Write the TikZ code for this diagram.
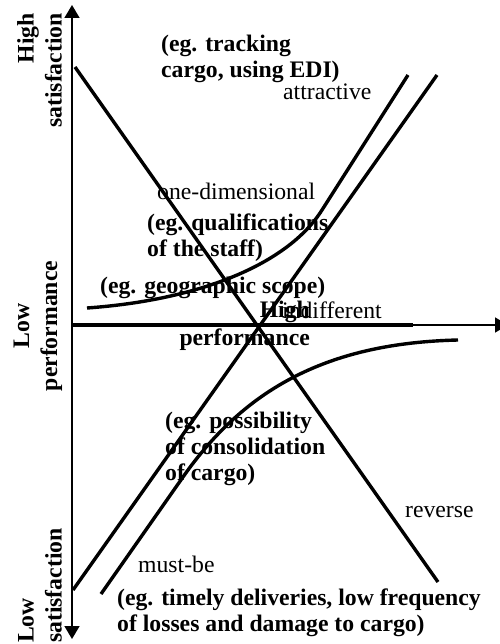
\documentclass[tikz,border=0pt]{standalone}
\usepackage{fontspec}
\setmainfont{Liberation Serif}
\usetikzlibrary{arrows.meta}
\tikzset{
  every picture/.style={x=1pt, y=-1pt},
  axis/.style={line width=1.6pt, -{Triangle[length=13pt, width=15pt]}},
  kano/.style={line width=3.4pt},
  eg/.style={font=\fontsize{23.7}{26}\selectfont\bfseries, align=left, inner sep=0pt, anchor=base west},
  kind/.style={font=\fontsize{23.7}{26}\selectfont, inner sep=0pt, anchor=base west},
  side/.style={font=\fontsize{23.7}{28}\selectfont\bfseries, rotate=90, inner sep=0pt},
}

\begin{document}
\begin{tikzpicture}
  \useasboundingbox (0,0) rectangle (499,644);
  % axes
  \coordinate (o) at (72,325);
  \coordinate (ytop) at (72,5);
  \coordinate (ybot) at (72,639);
  \coordinate (xend) at (508,325);
  \draw[axis] (o) -- (ytop);
  \draw[axis] (o) -- (ybot);
  \draw[axis] (o) -- (xend);
  % curves
  \draw[kano] (o) -- (413,325); % indifferent
  \draw[kano] (75,67) -- (438,582); % reverse
  \draw[kano] (73,590) -- (437,75); % one-dimensional
  \draw[kano] (87,308) .. controls (200,300) and (288,264) .. (322,210) -- (408,75); % attractive
  \draw[kano] (101,594) -- (183,477) .. controls (246,387) and (330,343) .. (458,340); % must-be
  % labels (base = last line)
  \node[side, align=right, anchor=south east] (highsat) at (62,13) {High\\satisfaction};
  \node[side, align=center] (lowperf) at (38,326) {Low\\performance};
  \node[side, align=left, anchor=south west] (lowsat) at (62,643) {Low\\satisfaction};
  \node[eg] (edi) at (161,78) {(eg. tracking\\cargo, using EDI)};
  \node[kind] (attr) at (283,100) {attractive};
  \node[kind] (onedim) at (157,200) {one-dimensional};
  \node[eg] (staff) at (147,256) {(eg. qualifications\\of the staff)};
  \node[eg] (scope) at (100,293) {(eg. geographic scope)};
  \node[kind] (indiff) at (282,318) {indifferent};
  \node[eg, font=\fontsize{23.7}{28}\selectfont\bfseries, align=right, anchor=base east] (highperf) at (310,345) {High\\performance};
  \node[eg] (consol) at (165,480) {(eg. possibility\\of consolidation\\of cargo)};
  \node[kind] (rev) at (405,517) {reverse};
  \node[kind] (must) at (138,572) {must-be};
  \node[eg] (timely) at (117,631) {(eg. timely deliveries, low frequency\\of losses and damage to cargo)};
\end{tikzpicture}
\end{document}
